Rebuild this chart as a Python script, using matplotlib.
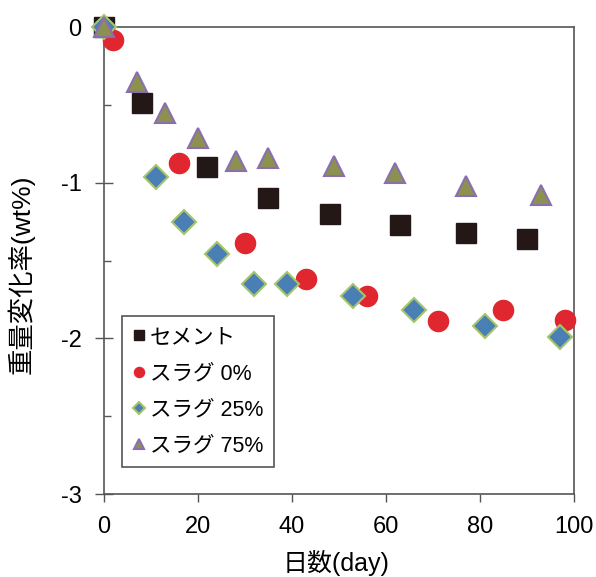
import matplotlib.pyplot as plt
from matplotlib.ticker import MultipleLocator

plt.rcParams['font.family'] = ['Liberation Sans', 'Noto Sans CJK JP']
plt.rcParams['axes.unicode_minus'] = False

# データ
cement_x = [0, 8, 22, 35, 48, 63, 77, 90]
cement_y = [0, -0.49, -0.90, -1.10, -1.20, -1.27, -1.32, -1.36]

slag0_x = [2, 16, 30, 43, 56, 71, 85, 98]
slag0_y = [-0.08, -0.87, -1.39, -1.62, -1.73, -1.89, -1.82, -1.88]

slag25_x = [0, 11, 17, 24, 32, 39, 53, 66, 81, 97]
slag25_y = [0, -0.96, -1.25, -1.46, -1.65, -1.65, -1.73, -1.82, -1.92, -1.99]

slag75_x = [0, 7, 13, 20, 28, 35, 49, 62, 77, 93]
slag75_y = [0, -0.35, -0.55, -0.71, -0.86, -0.84, -0.89, -0.94, -1.02, -1.08]

labels = ['セメント', 'スラグ 0%', 'スラグ 25%', 'スラグ 75%']

fig = plt.figure(figsize=(5.96, 5.77), dpi=100)
ax = fig.add_axes([0.1745, 0.1438, 0.7885, 0.8092])

ax.plot(cement_x, cement_y, 's', ms=15, color='#231815', mec='#231815',
        label=labels[0], zorder=3, clip_on=False)
ax.plot(slag0_x, slag0_y, 'o', ms=14.5, color='#e0262f', mec='#e0262f',
        label=labels[1], zorder=4, clip_on=False)
ax.plot(slag25_x, slag25_y, 'D', ms=12, color='#4a7fb5', mec='#a6c46a',
        mew=1.5, label=labels[2], zorder=5, clip_on=False)
ax.plot(slag75_x, slag75_y, '^', ms=15, color='#8c9150', mec='#8a6fb0',
        mew=1.5, label=labels[3], zorder=6, clip_on=False)

ax.set_xlim(0, 100)
ax.set_ylim(-3, 0)
ax.xaxis.set_major_locator(MultipleLocator(20))
ax.yaxis.set_major_locator(MultipleLocator(1))
ax.yaxis.set_minor_locator(MultipleLocator(0.5))
ax.tick_params(axis='x', direction='out', length=6, width=1, labelsize=17,
               pad=10, color='#555555')
ax.tick_params(axis='y', which='major', direction='inout', length=12.5, width=1,
               labelsize=17, pad=10, color='#555555')
ax.tick_params(axis='y', which='minor', direction='in', length=5, width=1,
               color='#555555')
for s in ax.spines.values():
    s.set_color('#555555')
    s.set_linewidth(1.2)

ax.set_xlabel('日数(day)', fontsize=18)
ax.set_ylabel('重量変化率(wt%)', fontsize=19)
ax.xaxis.set_label_coords(0.494, -0.12)
ax.yaxis.set_label_coords(-0.147, 0.471)

leg = ax.legend(loc='lower left', bbox_to_anchor=(0.038, 0.058), fontsize=15.5,
                markerscale=0.5, handlelength=0.6, handletextpad=0.2,
                borderpad=0.5, labelspacing=0.7, borderaxespad=0,
                fancybox=False, edgecolor='#555555', framealpha=1)
leg.get_frame().set_linewidth(1.2)

plt.savefig('out.png', dpi=100)
